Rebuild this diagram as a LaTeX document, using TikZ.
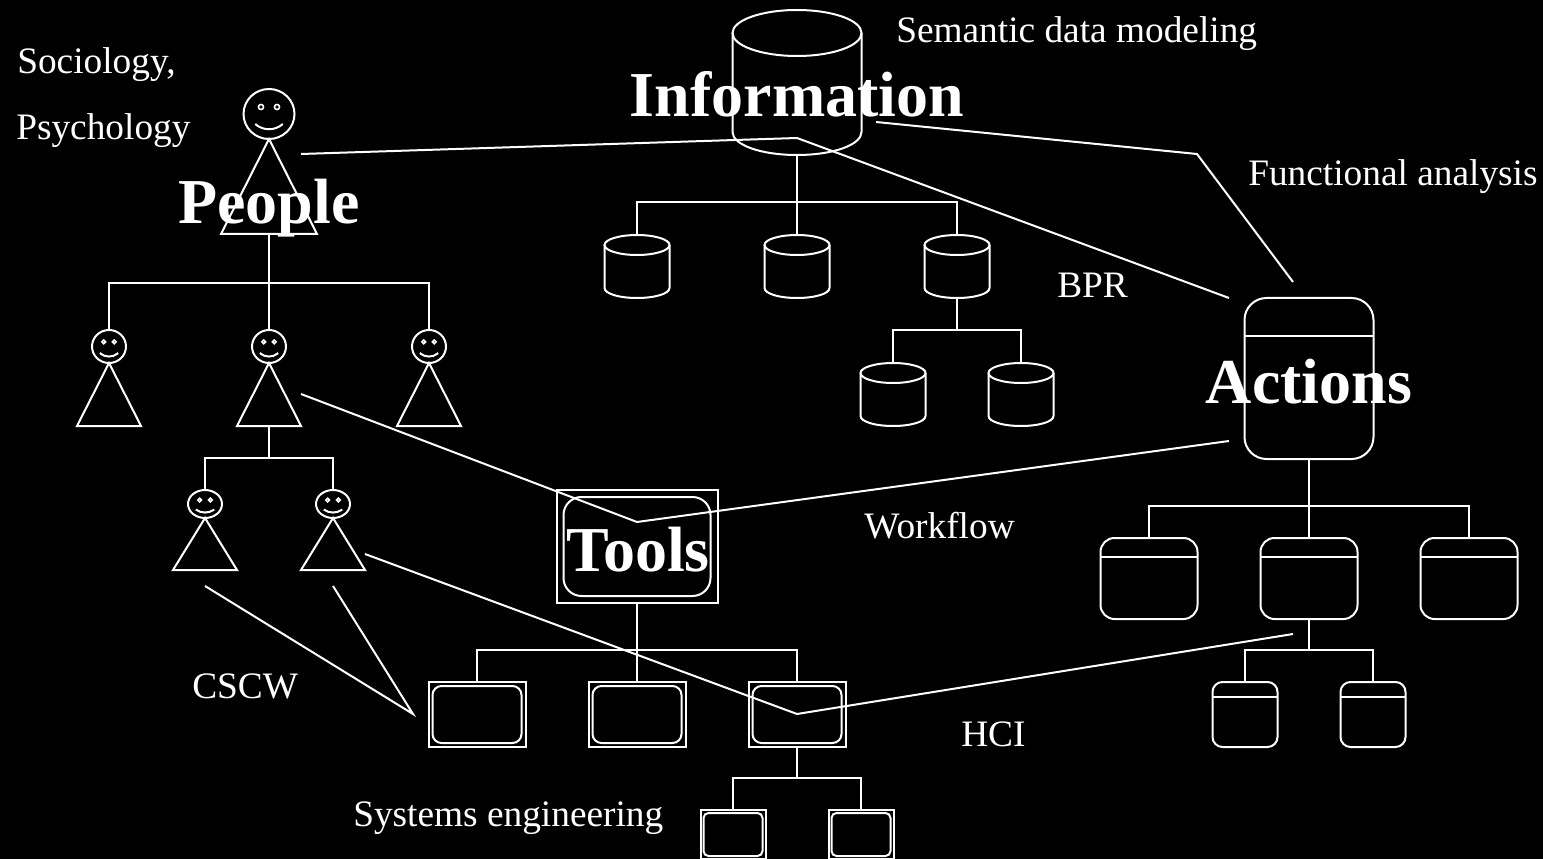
\documentclass[tikz,border=0pt]{standalone}
\usepackage{fontspec}
\setmainfont{Liberation Serif}
\tikzset{
  wire/.style={white, line width=1.5pt, line join=miter},
  slot/.style={inner sep=0pt, outer sep=0pt, draw=none},
  actbox/.style={slot, draw=white, line width=1.5pt},
  toolbox/.style={slot, draw=white, line width=1.5pt},
  bigtitle/.style={font=\fontsize{48}{48}\selectfont\bfseries, text=white, inner sep=0pt, anchor=base},
  note/.style={font=\fontsize{28}{28}\selectfont, text=white, inner sep=0pt, anchor=base west}
}
% name, cx, top, head height, bottom, width, head width
\newcommand{\personshape}[7]{
  \node[slot, minimum width={#6*0.75pt}, minimum height={(#5-#3)*0.75pt}] (#1) at (#2,{(#3+#5)/2}) {};
  \draw[wire] (#2,{#3+#4/2}) ellipse [x radius={#7/2}, y radius={#4/2}];
  \draw[wire] (#2,{#3+#4}) -- ({#2-#6/2},#5) -- ({#2+#6/2},#5) -- cycle;
  \draw[white, line width=1.2pt] ({#2-0.157*#7},{#3+0.36*#4}) circle [radius={0.04*#7+0.5}];
  \draw[white, line width=1.2pt] ({#2+0.157*#7},{#3+0.36*#4}) circle [radius={0.04*#7+0.5}];
  \draw[wire] ({#2-0.27*#7},{#3+0.7*#4}) .. controls ({#2-0.12*#7},{#3+0.84*#4}) and ({#2+0.12*#7},{#3+0.84*#4}) .. ({#2+0.27*#7},{#3+0.7*#4});
}
% name, cx, top, bottom, width, ellipse height
\newcommand{\cylshape}[6]{
  \node[slot, minimum width={#5*0.75pt}, minimum height={(#4-#3)*0.75pt}] (#1) at (#2,{(#3+#4)/2}) {};
  \draw[wire] (#2,{#3+#6/2}) ellipse [x radius={#5/2}, y radius={#6/2}];
  \draw[wire] ({#2-#5/2},{#3+#6/2}) -- ({#2-#5/2},{#4-#6/2})
    .. controls ({#2-#5/2},{#4-0.22*#6}) and ({#2-0.28*#5},#4) .. (#2,#4)
    .. controls ({#2+0.28*#5},#4) and ({#2+#5/2},{#4-0.22*#6}) .. ({#2+#5/2},{#4-#6/2})
    -- ({#2+#5/2},{#3+#6/2});
}
% name, cx, top, bottom, width, corner, divider height
\newcommand{\actshape}[7]{
  \node[actbox, rounded corners={#6*0.75pt}, minimum width={#5*0.75pt}, minimum height={(#4-#3)*0.75pt}] (#1) at (#2,{(#3+#4)/2}) {};
  \draw[wire] ({#2-#5/2},{#3+#7}) -- ({#2+#5/2},{#3+#7});
}
% name, cx, top, bottom, width, gap, corner
\newcommand{\toolshape}[7]{
  \node[toolbox, minimum width={#5*0.75pt}, minimum height={(#4-#3)*0.75pt}] (#1) at (#2,{(#3+#4)/2}) {};
  \node[toolbox, rounded corners={#7*0.75pt}, minimum width={(#5-2*#6)*0.75pt}, minimum height={(#4-#3-2*#6)*0.75pt}] (#1in) at (#1.center) {};
}
\begin{document}
\begin{tikzpicture}[x=0.75pt, y=-0.75pt]
  \useasboundingbox (0,0) rectangle (1543,859);
  \fill[black] (0,0) rectangle (1543,859);
  \clip (0,0) rectangle (1543,859);

  \personshape{people}{269}{89}{50}{234}{96}{51}
  \personshape{persona}{109}{330}{33}{426}{64}{34}
  \personshape{personb}{269}{330}{33}{426}{64}{34}
  \personshape{personc}{429}{330}{33}{426}{64}{34}
  \personshape{persond}{205}{490}{28}{570}{64}{34}
  \personshape{persone}{333}{490}{28}{570}{64}{34}

  \cylshape{info}{797}{10}{155}{129}{46}
  \cylshape{cyla}{637}{235}{298}{65}{20}
  \cylshape{cylb}{797}{235}{298}{65}{20}
  \cylshape{cylc}{957}{235}{298}{65}{20}
  \cylshape{cyld}{893}{363}{426}{65}{20}
  \cylshape{cyle}{1021}{363}{426}{65}{20}

  \actshape{actions}{1309}{298}{459}{129}{22}{38}
  \actshape{acta}{1149}{538}{619}{97}{14}{19}
  \actshape{actb}{1309}{538}{619}{97}{14}{19}
  \actshape{actc}{1469}{538}{619}{97}{14}{19}
  \actshape{actd}{1245}{682}{747}{65}{10}{15}
  \actshape{acte}{1373}{682}{747}{65}{10}{15}

  \toolshape{tools}{637}{490}{603}{161}{7}{18}
  \toolshape{toola}{477}{682}{747}{97}{4}{9}
  \toolshape{toolb}{637}{682}{747}{97}{4}{9}
  \toolshape{toolc}{797}{682}{747}{97}{4}{9}
  \toolshape{toold}{733}{810}{859}{65}{3}{5}
  \toolshape{toole}{861}{810}{859}{65}{3}{5}

  \foreach \kid in {persona,personb,personc}
    \draw[wire] (people.south) -- (people.south |- 0,283) -| (\kid.north);
  \foreach \kid in {persond,persone}
    \draw[wire] (personb.south) -- (personb.south |- 0,458) -| (\kid.north);
  \foreach \kid in {cyla,cylb,cylc}
    \draw[wire] (info.south) -- (info.south |- 0,202) -| (\kid.north);
  \foreach \kid in {cyld,cyle}
    \draw[wire] (cylc.south) -- (cylc.south |- 0,330) -| (\kid.north);
  \foreach \kid in {acta,actb,actc}
    \draw[wire] (actions.south) -- (actions.south |- 0,506) -| (\kid.north);
  \foreach \kid in {actd,acte}
    \draw[wire] (actb.south) -- (actb.south |- 0,650) -| (\kid.north);
  \foreach \kid in {toola,toolb,toolc}
    \draw[wire] (tools.south) -- (tools.south |- 0,650) -| (\kid.north);
  \foreach \kid in {toold,toole}
    \draw[wire] (toolc.south) -- (toolc.south |- 0,778) -| (\kid.north);

  \coordinate (bprstart) at (301,154);
  \coordinate (bprmid) at (797,138);
  \coordinate (bprend) at (1229,298);
  \coordinate (funcstart) at (876,122);
  \coordinate (funcmid) at (1197,154);
  \coordinate (funcend) at (1293,282);
  \coordinate (flowstart) at (301,394);
  \coordinate (flowmid) at (637,522);
  \coordinate (flowend) at (1229,441);
  \coordinate (hcistart) at (365,554);
  \coordinate (hcimid) at (797,714);
  \coordinate (hciend) at (1293,634);
  \coordinate (cscwstart) at (205,586);
  \coordinate (cscwmid) at (413,714);
  \coordinate (cscwend) at (333,586);
  \draw[wire] (bprstart) -- (bprmid) -- (bprend);
  \draw[wire] (funcstart) -- (funcmid) -- (funcend);
  \draw[wire] (flowstart) -- (flowmid) -- (flowend);
  \draw[wire] (hcistart) -- (hcimid) -- (hciend);
  \draw[wire] (cscwstart) -- (cscwmid) -- (cscwend);

  \node[bigtitle] (infotitle) at (797,117) {Information};
  \node[bigtitle] (peopletitle) at (269,224) {People};
  \node[bigtitle] (actionstitle) at (1309,403) {Actions};
  \node[bigtitle] (toolstitle) at (638,571) {Tools};
  \node[note] (semantic) at (896,43) {Semantic data modeling};
  \node[note] (sociology) at (17,74) {Sociology,};
  \node[note] (psychology) at (16,140) {Psychology};
  \node[note] (functional) at (1248,186) {Functional analysis};
  \node[note] (bpr) at (1057,298) {BPR};
  \node[note] (workflow) at (864,538) {Workflow};
  \node[note] (cscw) at (192,698) {CSCW};
  \node[note] (hci) at (961,746) {HCI};
  \node[note] (systems) at (353,826) {Systems engineering};
\end{tikzpicture}
\end{document}
